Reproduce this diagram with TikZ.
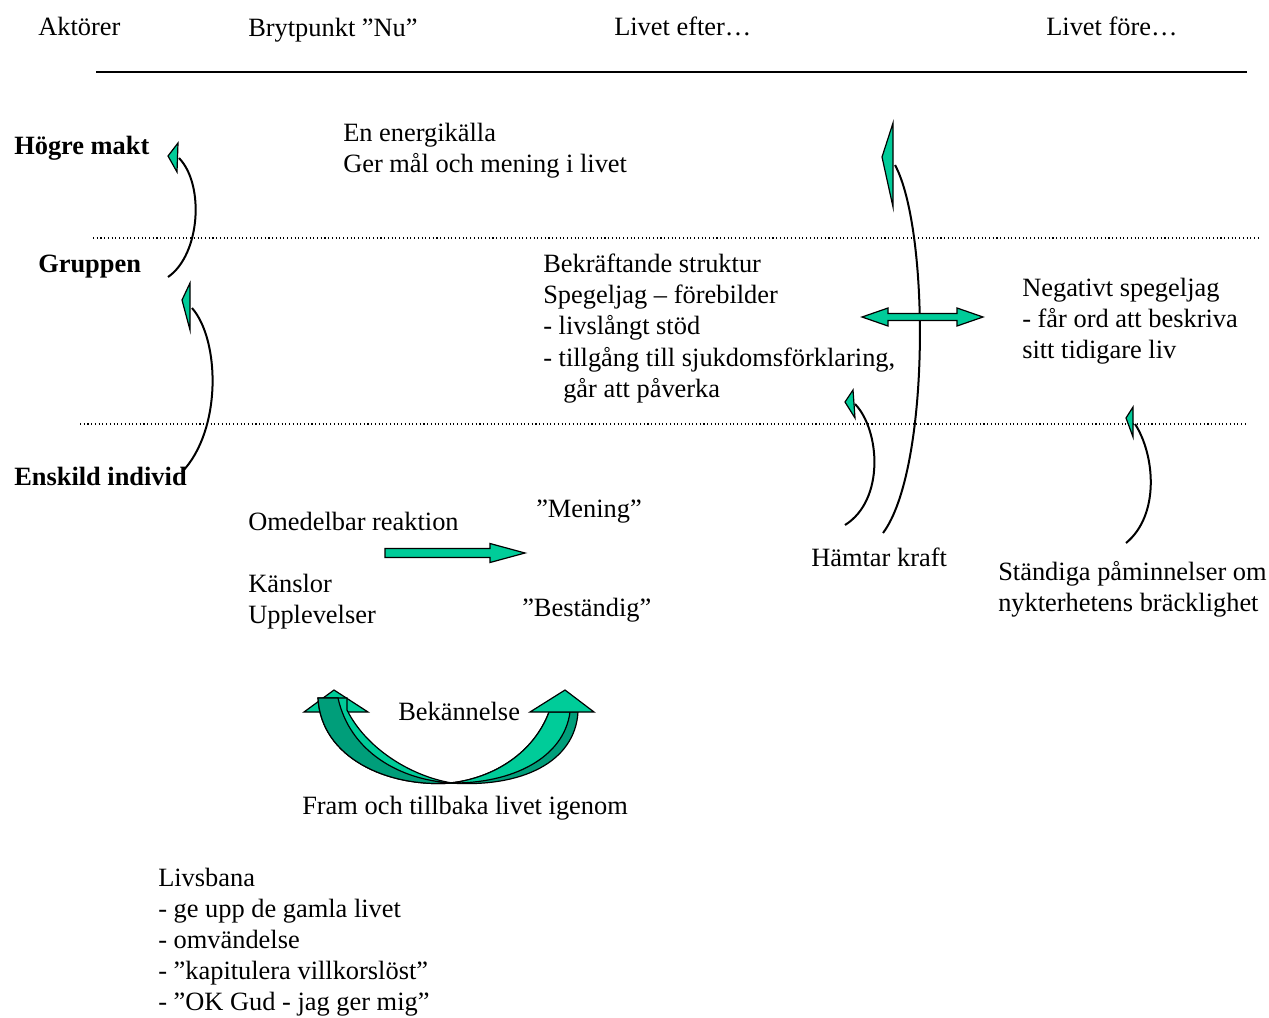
\documentclass[tikz,border=0pt]{standalone}
\usepackage{fontspec}
\setmainfont{Liberation Serif}
\usepackage{tikz}
\definecolor{teal1}{RGB}{0,204,153}
\definecolor{teal2}{RGB}{0,158,122}
\tikzstyle{txt} = [anchor=north west, inner sep=0pt, align=left,
    font=\fontsize{19.8}{23.3}\selectfont]
\tikzstyle{head} = [draw=black, fill=teal1, line width=0.9pt, line join=miter]
\tikzstyle{curve} = [draw=black, line width=1.5pt]
\tikzstyle{rule} = [draw=black, line width=0.8pt, dotted]

\begin{document}
\begin{tikzpicture}[x=0.75pt, y=-0.75pt]
  \useasboundingbox (0,0) rectangle (1269,1017);
  % Place nodes
  \node [txt] (aktorer) at (38,17) {Aktörer};
  \node [txt] (brytpunkt) at (248,18) {Brytpunkt ”Nu”};
  \node [txt] (efter) at (614,17) {Livet efter…};
  \node [txt] (fore) at (1046,17) {Livet före…};
  \node [txt] (hogre) at (14,136) {\textbf{Högre makt}};
  \node [txt] (gruppen) at (38,255) {\textbf{Gruppen}};
  \node [txt] (individ) at (14,467) {\textbf{Enskild individ}};
  \node [txt] (energi) at (343,123)
  {En energikälla\\Ger mål och mening i livet};
  \node [txt] (struktur) at (543,254)
  {Bekräftande struktur\\Spegeljag – förebilder\\- livslångt stöd\\
   - tillgång till sjukdomsförklaring,\\\hspace*{15pt}går att påverka};
  \node [txt] (negativt) at (1022,278)
  {Negativt spegeljag\\- får ord att beskriva\\sitt tidigare liv};
  \node [txt] (reaktion) at (248,512) {Omedelbar reaktion};
  \node [txt] (mening) at (536,500) {”Mening”};
  \node [txt] (kanslor) at (248,574) {Känslor\\Upplevelser};
  \node [txt] (bestandig) at (522,598) {”Beständig”};
  \node [txt] (kraft) at (811,548) {Hämtar kraft};
  \node [txt] (paminnelser) at (998,561)
  {Ständiga påminnelser om\\nykterhetens bräcklighet};
  \node [txt] (bekannelse) at (398,702) {Bekännelse};
  \node [txt] (fram) at (302,796) {Fram och tillbaka livet igenom};
  \node [txt] (livsbana) at (158,868)
  {Livsbana\\- ge upp de gamla livet\\- omvändelse\\
   - ”kapitulera villkorslöst”\\- ”OK Gud - jag ger mig”};
  % Draw lines
  \draw [line width=1.2pt] (96,72) -- (1247,72);
  \draw [rule] (93,238) -- (1258,238);
  \draw [rule] (80,424) -- (1247,424);
  % Curved arrows
  \draw [curve] (168,277) .. controls (200,255) and (205,185) .. (179,158);
  \draw [head] (178,143) -- (168,156) -- (177,172) -- cycle;
  \draw [curve] (182,472) .. controls (222,430) and (220,340) .. (192,308);
  \draw [head] (190,283) -- (182,300) -- (190,330) -- cycle;
  \draw [curve] (883,533) .. controls (930,470) and (930,230) .. (895,165);
  \draw [head] (893,123) -- (882,157) -- (893,207) -- cycle;
  \draw [curve] (845,525) .. controls (885,500) and (880,430) .. (855,404);
  \draw [head] (853,390) -- (845,402) -- (855,418) -- cycle;
  \draw [curve] (1126,543) .. controls (1160,515) and (1155,455) .. (1135,424);
  \draw [head] (1133,407) -- (1126,418) -- (1133,437) -- cycle;
  % Block arrows
  \draw [head] (862,317) -- (888,308) -- (888,313.5) -- (957,313.5)
    -- (957,308) -- (983,317) -- (957,326) -- (957,320.5) -- (888,320.5)
    -- (888,326) -- cycle;
  \draw [head] (385,548.5) -- (490,548.5) -- (490,543.5) -- (525,553)
    -- (490,562.5) -- (490,557.5) -- (385,557.5) -- cycle;
  % Bekannelse, left
  \draw [head] (304,712) -- (334,690) -- (368,712) -- cycle;
  \draw [head] (318,698) -- (347,698) -- (347,710)
    .. controls (366,748) and (410,776) .. (452,783)
    .. controls (388,788) and (321,758) .. (318,698) -- cycle;
  \draw [head, fill=teal2] (318,698) -- (338,698)
    .. controls (350,752) and (400,780) .. (452,783)
    .. controls (388,788) and (321,758) .. (318,698) -- cycle;
  % Bekannelse, right
  \draw [head, fill=teal2] (549,712)
    .. controls (534,752) and (495,778) .. (450,783)
    .. controls (522,788) and (575,762) .. (578,712) -- cycle;
  \draw [head] (549,712)
    .. controls (534,752) and (495,778) .. (450,783)
    .. controls (512,784) and (564,758) .. (570,712) -- cycle;
  \draw [head] (530,712) -- (565,690) -- (594,712) -- cycle;
\end{tikzpicture}
\end{document}
